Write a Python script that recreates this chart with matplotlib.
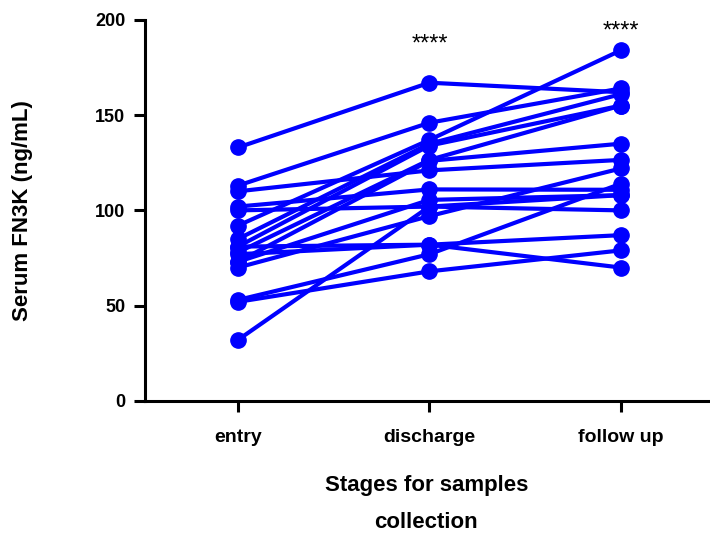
import matplotlib
matplotlib.use("Agg")
import matplotlib.pyplot as plt

# stages and per-subject values (ng/mL)
stages = ["entry", "discharge", "follow up"]
entry = [133, 113, 110, 102, 100, 92, 85, 81, 78, 73, 73, 70, 81, 77, 53, 52, 32]
discharge = [167, 146, 121, 111, 102, 137, 135, 134, 126.5, 126, 105.5, 97, 82, 82, 77, 68, 102]
follow_up = [162, 164, 126.5, 110.8, 100, 184, 161, 155, 155, 135, 108, 122, 87, 70, 114, 79, 108]
stars = ["", "****", "****"]
star_y = [None, 187, 194]

plt.rcParams["font.family"] = ["Liberation Sans", "DejaVu Sans"]
blue = "#0000ff"

fig = plt.figure(figsize=(7.1, 5.36), dpi=100)
ax = fig.add_axes([0.204, 0.252, 0.793, 0.711])

for a, b, c in zip(entry, discharge, follow_up):
    ax.plot(range(3), [a, b, c], color=blue, lw=3.0, marker="o", ms=11,
            mfc=blue, mec=blue, solid_capstyle="round", clip_on=False)

for i, s in enumerate(stars):
    if s:
        ax.text(i, star_y[i], s, ha="center", va="center", fontsize=17, color="black")

ax.set_xlim(-0.486, 2.454)
ax.set_ylim(0, 200)
ax.set_xticks(range(3))
ax.set_xticklabels(stages, fontsize=14, fontweight="bold")
ax.set_yticks([0, 50, 100, 150, 200])
ax.set_yticklabels(["0", "50", "100", "150", "200"], fontsize=13, fontweight="bold")

for side in ["top", "right"]:
    ax.spines[side].set_visible(False)
for side in ["left", "bottom"]:
    ax.spines[side].set_linewidth(2.2)
ax.tick_params(axis="both", width=2.2, length=8, direction="out", pad=6)
ax.tick_params(axis="x", pad=12)

ax.set_ylabel("Serum FN3K (ng/mL)", fontsize=16, fontweight="bold")
ax.yaxis.set_label_coords(-0.198, 0.5)
ax.set_xlabel("Stages for samples\ncollection", fontsize=16, fontweight="bold",
              linespacing=2.0)
ax.xaxis.set_label_coords(0.5, -0.195)

fig.savefig("out.png", dpi=100)
